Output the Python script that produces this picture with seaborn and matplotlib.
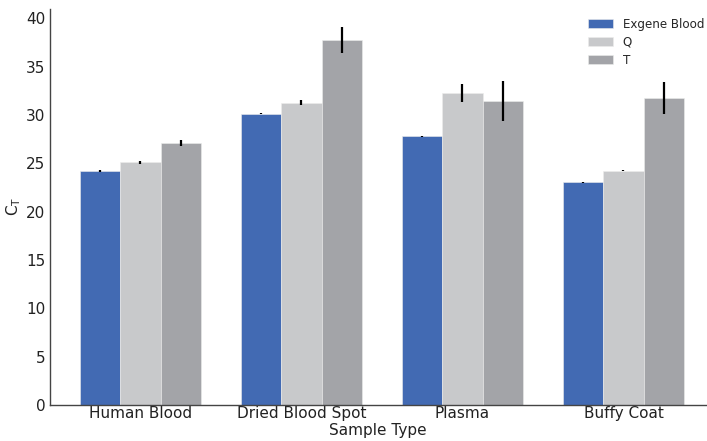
import numpy as np
import pandas as pd
import matplotlib
matplotlib.use("Agg")
import matplotlib.pyplot as plt
import seaborn as sns

categories = ["Human Blood", "Dried Blood Spot", "Plasma", "Buffy Coat"]
series = ["Exgene Blood", "Q", "T"]
exgene_vals = [24.2, 30.15, 27.8, 23.05]
q_vals = [25.1, 31.3, 32.3, 24.25]
t_vals = [27.1, 37.8, 31.45, 31.8]
exgene_err = [0.1, 0.05, 0.03, 0.05]
q_err = [0.15, 0.25, 0.9, 0.05]
t_err = [0.35, 1.35, 2.1, 1.65]
colors = ["#426ab3", "#c8c9cb", "#a3a4a8"]

rows = []
for s, vals, errs in zip(series, [exgene_vals, q_vals, t_vals], [exgene_err, q_err, t_err]):
    for c, v, e in zip(categories, vals, errs):
        rows.append({"Sample Type": c, "Kit": s, "CT": v, "err": e})
df = pd.DataFrame(rows)

sns.set_style("white")
plt.rcParams["font.family"] = ["DejaVu Sans"]
fig, ax = plt.subplots(figsize=(7.07, 4.41), dpi=100)
sns.barplot(data=df, x="Sample Type", y="CT", hue="Kit", hue_order=series,
            order=categories, palette=colors, errorbar=None, width=0.75,
            edgecolor="#ececec", linewidth=0.4, ax=ax, saturation=1)

# error bars at bar centers
for cont, s in zip(ax.containers, series):
    sub = df[df["Kit"] == s].set_index("Sample Type").loc[categories]
    xs = [b.get_x() + b.get_width() / 2 for b in cont]
    ys = [b.get_height() for b in cont]
    ax.errorbar(xs, ys, yerr=sub["err"].values, fmt="none", ecolor="black",
                elinewidth=1.6, capsize=0)

ax.set_ylim(0, 41)
ax.set_xlim(-0.56, 3.51)
ax.set_yticks(range(0, 41, 5))
ax.set_ylabel(r"$\mathregular{C_T}$", fontsize=11, color="#222222", labelpad=2)
ax.set_xlabel("Sample Type", fontsize=11, color="#222222", labelpad=1)
ax.tick_params(axis="both", direction="in", length=4, colors="#333333",
               labelsize=11, labelcolor="#222222")
ax.tick_params(axis="x", pad=1)
for sp in ["top", "right"]:
    ax.spines[sp].set_visible(False)
for sp in ["left", "bottom"]:
    ax.spines[sp].set_color("#444444")
    ax.spines[sp].set_linewidth(1.0)

leg = ax.legend(loc="upper right", frameon=False, fontsize=8.6,
                handlelength=2.1, handleheight=0.7, labelspacing=0.42,
                handletextpad=0.8, bbox_to_anchor=(1.014, 1.005))
ax.get_legend().set_title(None)

fig.subplots_adjust(left=0.071, right=0.998, top=0.98, bottom=0.082)
fig.savefig("out.png", dpi=100)
